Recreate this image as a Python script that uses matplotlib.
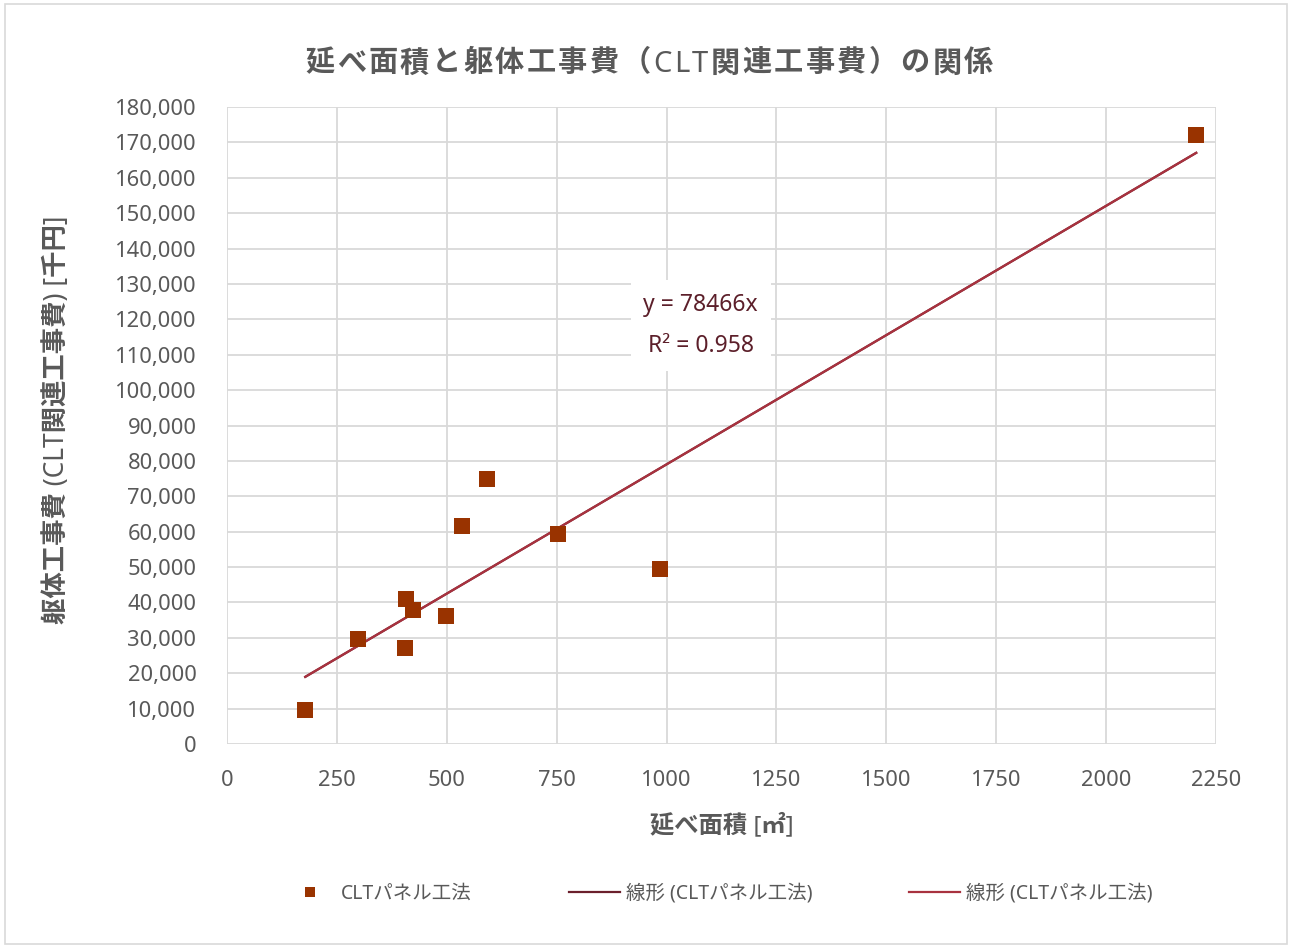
import numpy as np
import matplotlib
matplotlib.use('Agg')
import matplotlib.pyplot as plt
from matplotlib.patches import Rectangle
from matplotlib.lines import Line2D
from matplotlib.ticker import FuncFormatter, MultipleLocator

plt.rcParams['font.family'] = ['Noto Sans', 'Noto Sans CJK JP', 'DejaVu Sans']

# 延べ面積 [㎡] / 躯体工事費 [千円]
area = [178, 299, 406, 408, 424, 499, 535, 592, 754, 986, 2205]
cost = [9500, 29600, 27000, 40900, 37800, 36100, 61500, 74800, 59300, 49400, 172000]

title = '延べ面積と躯体工事費（CLT関連工事費）の関係'
series_name = 'CLTパネル工法'
trend_names = ['線形 (CLTパネル工法)', '線形 (CLTパネル工法)']
eq_text = 'y = 78466x\nR² = 0.958'

gray = '#595959'
grid = '#d9d9d9'
W, H = 1290, 947

fig = plt.figure(figsize=(W / 100, H / 100), dpi=100)
ax = fig.add_axes([227 / W, 1 - 744 / H, 989 / W, 637 / H])

# 線形近似
x = np.array(area, dtype=float)
y = np.array(cost, dtype=float)
k, b = np.polyfit(x, y, 1)
xs = np.array([x.min(), x.max()])
ax.plot(xs, k * xs + b, color='#6b1f2c', lw=1.6, zorder=3)
ax.plot(xs, k * xs + b, color='#a8323f', lw=1.6, zorder=3)

ax.plot(area, cost, 's', color='#993300', ms=12.2, mew=0, zorder=4)

ax.set_xlim(0, 2250)
ax.set_ylim(0, 180000)
ax.xaxis.set_major_locator(MultipleLocator(250))
ax.yaxis.set_major_locator(MultipleLocator(10000))
ax.yaxis.set_major_formatter(FuncFormatter(lambda v, p: f'{int(v):,}'))
ax.grid(True, color=grid, lw=1.3, zorder=0)
ax.set_axisbelow(True)
for s in ax.spines.values():
    s.set_visible(False)
ax.tick_params(length=0, labelsize=15.8, labelcolor=gray)
ax.tick_params(axis='x', pad=19)
ax.tick_params(axis='y', pad=22)

ax.text(0.479, 0.657, eq_text, transform=ax.transAxes, ha='center', va='center',
        fontsize=16.5, color='#5c1f2a', linespacing=1.95,
        bbox=dict(facecolor='white', edgecolor='none', pad=9), zorder=5)

ax.set_xlabel('延べ面積 [㎡]', fontsize=17.5, fontweight='bold', color=gray)
ax.set_ylabel('躯体工事費 (CLT関連工事費) [千円]', fontsize=19, fontweight='bold', color=gray)
ax.xaxis.label.set_va('center')
ax.yaxis.label.set_va('center')
ax.xaxis.set_label_coords(0.5, (744 - 826) / 637)
ax.yaxis.set_label_coords((57 - 227) / 989, (744 - 420) / 637)

# タイトル (文字間隔あり)
renderer = fig.canvas.get_renderer()
chars = [fig.text(0, 1 - 64 / H, c, ha='left', va='center', fontsize=21,
                  fontweight='bold', color=gray) for c in title]
widths = [t.get_window_extent(renderer).width for t in chars]
gap = (688 - sum(widths)) / (len(chars) - 1)
pos = 305.0
for t, w in zip(chars, widths):
    t.set_x(pos / W)
    pos += w + gap

handles = [
    Line2D([], [], ls='none', marker='s', color='#993300', ms=7.5, mew=0),
    Line2D([], [], color='#6b1f2c', lw=1.6),
    Line2D([], [], color='#a8323f', lw=1.6),
]
fig.legend(handles, [series_name] + trend_names, loc='center', ncol=3,
           bbox_to_anchor=(0.557, 1 - 894 / H), frameon=False, fontsize=14,
           labelcolor=gray, columnspacing=5.0, handlelength=2.6, handletextpad=0.3)

fig.patches.append(Rectangle((5 / W, 3 / H), 1282 / W, 940 / H,
                             transform=fig.transFigure, fill=False,
                             edgecolor=grid, lw=1.2))

fig.savefig('out.png', dpi=100)
